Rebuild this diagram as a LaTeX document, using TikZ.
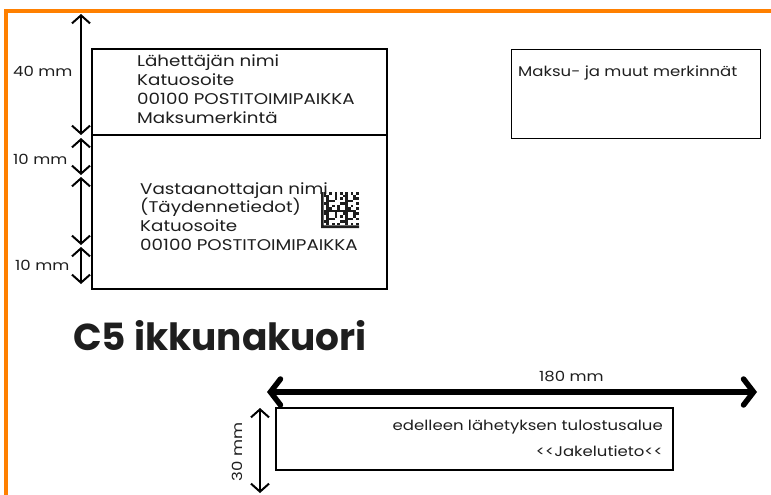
\documentclass[tikz,border=0pt]{standalone}
\usepackage{fontspec}
\setmainfont{Poppins}[FakeStretch=1.18]
\newfontfamily\titlefont{Poppins}
\usetikzlibrary{arrows.meta}
\definecolor{frameorange}{HTML}{FF8000}
\definecolor{ink}{HTML}{1E1E1E}
\tikzset{
  addrbox/.style={draw=black,line width=1.6pt,minimum width=295pt,anchor=north west,inner sep=0pt},
  addr/.style={text=ink,font=\fontsize{15.5}{19}\selectfont,inner sep=0pt,anchor=base west},
  small/.style={text=ink,font=\fontsize{14}{16}\selectfont,inner sep=0pt},
  dimarrow/.style={line width=2pt,{Straight Barb[length=8pt,width=18pt]}-{Straight Barb[length=8pt,width=18pt]}},
  bigarrow/.style={line width=5.5pt,line cap=round,{Straight Barb[length=10pt,width=26pt,line cap=round]}-{Straight Barb[length=10pt,width=26pt,line cap=round]}}
}
\begin{document}
\begin{tikzpicture}[x=1pt,y=-1pt]
      \useasboundingbox (0,0) rectangle (771,495);
      % Draw envelope frame
      \draw [frameorange,line width=4pt] (6,495) |- (771,11.5);
      % Draw address windows
      \node [addrbox,minimum height=86pt] (sender) at (91,48) {};
      \node [addrbox,minimum height=154pt] (receiver) at (91,134) {};
      \node [addrbox,line width=1.3pt,minimum width=249pt,minimum height=89pt] (payment) at (511,49) {};
      \node [addrbox,minimum width=397pt,minimum height=62pt] (forward) at (275,407) {};
      % Draw texts
      \foreach \t [count=\i] in {Lähettäjän nimi,Katuosoite,00100 POSTITOIMIPAIKKA,Maksumerkintä}
        \node [addr] (sender\i) at (137,66.7+18.9*\i-18.9) {\t};
      \foreach \t [count=\i] in {Vastaanottajan nimi,(Täydennetiedot),Katuosoite,00100 POSTITOIMIPAIKKA}
        \node [addr] (receiver\i) at (140,194+18.9*\i-18.9) {\t};
      \node [small,anchor=base west] (paymenttxt) at (518,76.7) {Maksu- ja muut merkinnät};
      \node [small,anchor=base east] (forwardtxt) at (663,430) {edelleen lähetyksen tulostusalue};
      \node [small,anchor=base east] (delivtxt) at (663,456.7) {{<}{<}Jakelutieto{<}{<}};
      \node [anchor=base west,inner sep=0pt,text=ink,font=\titlefont\fontsize{37.5}{40}\selectfont\bfseries] (title) at (73,350.5) {C5 ikkunakuori};
      % Draw data matrix
      \fill [ink] (321,192) rectangle (323.7,228) rectangle (359,225.3);
      \foreach \i in {1,...,13}
        \foreach \j in {0,...,12} {
          \pgfmathtruncatemacro{\on}{mod(\i*7+\j*11+\i*\j*5,7)<3 ? 1 : 0}
          \ifnum\j=0 \pgfmathtruncatemacro{\on}{mod(\i,2)}\fi
          \ifnum\i=13 \pgfmathtruncatemacro{\on}{mod(\j+1,2)}\fi
          \ifnum\on=1
            \fill [ink] (321+\i*2.7,192+\j*2.55) rectangle ++(2.7,2.55);
          \fi
        }
      % Draw dimension arrows
      \coordinate (d0) at (81,14);
      \coordinate (d1) at (81,135);
      \coordinate (d2) at (81,138);
      \coordinate (d3) at (81,175);
      \coordinate (d4) at (81,177);
      \coordinate (d5) at (81,245);
      \coordinate (d6) at (81,247);
      \coordinate (d7) at (81,284);
      \draw [dimarrow] (d0) -- (d1);
      \draw [dimarrow] (d2) -- (d3);
      \draw [dimarrow] (d4) -- (d5);
      \draw [dimarrow] (d6) -- (d7);
      \node [small,anchor=base west] (dim40) at (13,76.7) {40 mm};
      \node [small,anchor=base west] (dim10a) at (13,164.3) {10 mm};
      \node [small,anchor=base west] (dim10b) at (15,270) {10 mm};
      \coordinate (w0) at (267,392);
      \coordinate (w1) at (757,392);
      \draw [bigarrow] (w0) -- (w1);
      \node [small,anchor=base west] (dim180) at (539,381.7) {180 mm};
      \coordinate (h0) at (260,408);
      \coordinate (h1) at (260,493);
      \draw [dimarrow] (h0) -- (h1);
      \node [small,rotate=90] (dim30) at (237,452) {30 mm};
\end{tikzpicture}
\end{document}
